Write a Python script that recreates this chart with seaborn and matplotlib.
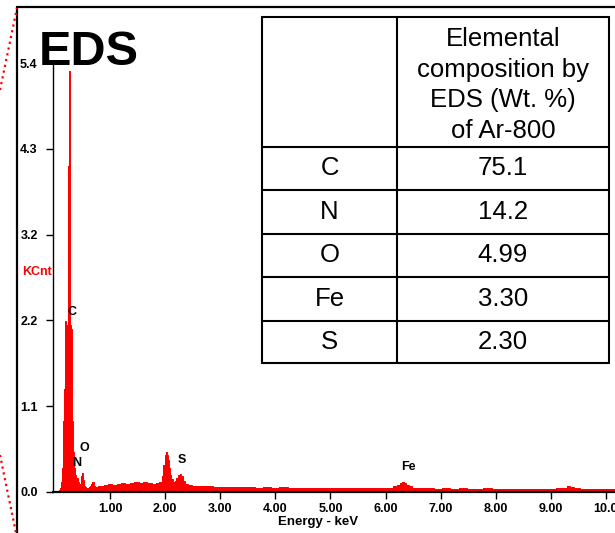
import pandas as pd
import matplotlib.pyplot as plt
import seaborn as sns
from matplotlib.lines import Line2D

# spectrum (energy in keV, counts in KCnt)
energy_kev = [0.00, 0.06, 0.08, 0.10, 0.12, 0.14, 0.16, 0.18, 0.20, 0.22, 0.24, 0.26, 0.28, 0.30,
              0.32, 0.34, 0.36, 0.38, 0.40, 0.42, 0.44, 0.46, 0.48, 0.50, 0.52, 0.54, 0.56, 0.58,
              0.60, 0.62, 0.64, 0.66, 0.68, 0.70, 0.72, 0.75, 0.80, 0.86, 0.92, 1.00, 1.08, 1.16,
              1.24, 1.32, 1.40, 1.48, 1.56, 1.64, 1.72, 1.80, 1.86, 1.92, 1.95, 1.98, 2.00, 2.02,
              2.04, 2.06, 2.08, 2.10, 2.13, 2.16, 2.19, 2.22, 2.25, 2.28, 2.31, 2.34, 2.38, 2.44,
              2.52, 2.60, 2.70, 2.80, 2.95, 3.10, 3.25, 3.40, 3.55, 3.70, 3.85, 4.00, 4.15, 4.30,
              4.45, 4.60, 4.75, 4.90, 5.05, 5.20, 5.35, 5.50, 5.65, 5.80, 5.95, 6.10, 6.18, 6.24,
              6.28, 6.32, 6.36, 6.40, 6.45, 6.52, 6.65, 6.80, 6.95, 7.10, 7.25, 7.40, 7.55, 7.70,
              7.85, 8.00, 8.15, 8.30, 8.45, 8.60, 8.75, 8.90, 9.05, 9.15, 9.25, 9.32, 9.38, 9.45,
              9.60, 9.75, 9.90, 10.05, 10.20]
counts_kcnt = [0.00, 0.01, 0.02, 0.05, 0.12, 0.30, 0.90, 1.30, 2.15, 2.10, 4.10, 5.30, 2.10, 2.05,
               0.90, 0.50, 0.30, 0.22, 0.18, 0.12, 0.08, 0.10, 0.20, 0.24, 0.15, 0.08, 0.06, 0.05,
               0.05, 0.06, 0.07, 0.10, 0.13, 0.12, 0.08, 0.06, 0.07, 0.08, 0.09, 0.10, 0.09, 0.10,
               0.11, 0.10, 0.11, 0.12, 0.11, 0.12, 0.11, 0.10, 0.11, 0.13, 0.20, 0.34, 0.46, 0.50,
               0.47, 0.40, 0.30, 0.21, 0.16, 0.13, 0.14, 0.18, 0.21, 0.23, 0.20, 0.14, 0.10, 0.09,
               0.08, 0.08, 0.07, 0.07, 0.065, 0.06, 0.065, 0.06, 0.06, 0.055, 0.06, 0.055, 0.06, 0.055,
               0.05, 0.055, 0.05, 0.055, 0.05, 0.05, 0.055, 0.05, 0.045, 0.05, 0.05, 0.055, 0.07, 0.09,
               0.11, 0.125, 0.115, 0.09, 0.07, 0.05, 0.045, 0.045, 0.04, 0.045, 0.04, 0.045, 0.04, 0.04,
               0.045, 0.04, 0.04, 0.035, 0.04, 0.035, 0.04, 0.035, 0.04, 0.045, 0.055, 0.07, 0.06, 0.045,
               0.04, 0.035, 0.04, 0.035, 0.04]

xtick_values = [1, 2, 3, 4, 5, 6, 7, 8, 9, 10]
xtick_labels = ["1.00", "2.00", "3.00", "4.00", "5.00", "6.00", "7.00", "8.00", "9.00", "10.0"]
ytick_values = [0.0, 1.08, 2.16, 3.24, 4.32, 5.4]
ytick_labels = ["0.0", "1.1", "2.2", "3.2", "4.3", "5.4"]

peak_names = ["C", "N", "O", "S", "Fe"]
peak_x = [0.31, 0.40, 0.54, 2.30, 6.42]
peak_y = [2.27, 0.365, 0.55, 0.40, 0.31]

table_header = "Elemental\ncomposition by\nEDS (Wt. %)\nof Ar-800"
table_elements = ["C", "N", "O", "Fe", "S"]
table_values = ["75.1", "14.2", "4.99", "3.30", "2.30"]

sns.set_style("ticks")
plt.rcParams['font.family'] = ['Liberation Sans', 'DejaVu Sans']
plt.rcParams['text.color'] = 'black'
plt.rcParams['axes.labelcolor'] = 'black'
plt.rcParams['xtick.color'] = 'black'
plt.rcParams['ytick.color'] = 'black'
plt.rcParams['axes.edgecolor'] = 'black'

W, H = 615, 533
fig = plt.figure(figsize=(W / 100, H / 100), dpi=100)


def fx(px):
    return px / W


def fy(py):
    return 1 - py / H


ax = fig.add_axes([fx(53), fy(492), fx(615) - fx(53), fy(63) - fy(492)])

spec = pd.DataFrame({"energy": energy_kev, "kcnt": counts_kcnt})
ax.fill_between(spec["energy"], spec["kcnt"], step="mid", color="#ff0000", lw=0)
sns.lineplot(data=spec, x="energy", y="kcnt", drawstyle="steps-mid",
             color="#ff0000", lw=0.7, ax=ax)

ax.set_xlim(-0.035, 10.165)
ax.set_ylim(0, 5.4)
ax.set_xticks(xtick_values)
ax.set_xticklabels(xtick_labels, fontsize=9, fontweight="bold")
ax.set_yticks(ytick_values)
ax.set_yticklabels(ytick_labels, fontsize=9, fontweight="bold")
ax.tick_params(axis="x", direction="out", length=5, width=1, pad=3)
ax.tick_params(axis="y", direction="out", length=5, width=1, pad=6)
sns.despine(ax=ax, top=True, right=True)
ax.spines["bottom"].set_linewidth(1.6)
ax.spines["left"].set_linewidth(1.0)
ax.set_ylabel("")
ax.set_xlabel("Energy - keV", fontsize=9.5, fontweight="bold")
ax.xaxis.set_label_coords((318 - 53) / (615 - 53), (492 - 522) / (492 - 63))
ax.xaxis.label.set_va("center")

for name, x, y in zip(peak_names, peak_x, peak_y):
    ax.text(x, y, name, fontsize=9, fontweight="bold", ha="center", va="center")

fig.text(fx(37), fy(272), "KCnt", color="#ff0000", fontsize=9, fontweight="bold",
         ha="center", va="center")
fig.text(fx(39), fy(65), "EDS", fontsize=35, fontweight="bold", ha="left", va="baseline")

# frame of the panel and zoom guide lines
fig.add_artist(Line2D([fx(17), fx(17)], [fy(7), fy(533)], color="black", lw=1.6))
fig.add_artist(Line2D([fx(17), fx(615)], [fy(7), fy(7)], color="black", lw=1.6))
fig.add_artist(Line2D([fx(0), fx(17)], [fy(90), fy(8)], color="#ff0000", lw=1.6, ls=":"))
fig.add_artist(Line2D([fx(0), fx(16)], [fy(455), fy(533)], color="#ff0000", lw=1.6, ls=":"))

# composition table
t_left, t_mid, t_right = 262, 397, 609
row_lines = [17, 147, 190, 234, 277, 321, 363]
for yl in row_lines:
    fig.add_artist(Line2D([fx(t_left), fx(t_right)], [fy(yl), fy(yl)], color="black", lw=1.5))
for xl in [t_left, t_mid, t_right]:
    fig.add_artist(Line2D([fx(xl), fx(xl)], [fy(row_lines[0]), fy(row_lines[-1])],
                          color="black", lw=1.5))

fig.text(fx((t_mid + t_right) / 2), fy((row_lines[0] + row_lines[1]) / 2 + 3), table_header,
         fontsize=18.5, ha="center", va="center", linespacing=1.35)
for i, (el, val) in enumerate(zip(table_elements, table_values)):
    yc = (row_lines[i + 1] + row_lines[i + 2]) / 2
    fig.text(fx((t_left + t_mid) / 2), fy(yc), el, fontsize=18.5, ha="center", va="center")
    fig.text(fx((t_mid + t_right) / 2), fy(yc), val, fontsize=18.5, ha="center", va="center")

fig.savefig("out.png", dpi=100)
